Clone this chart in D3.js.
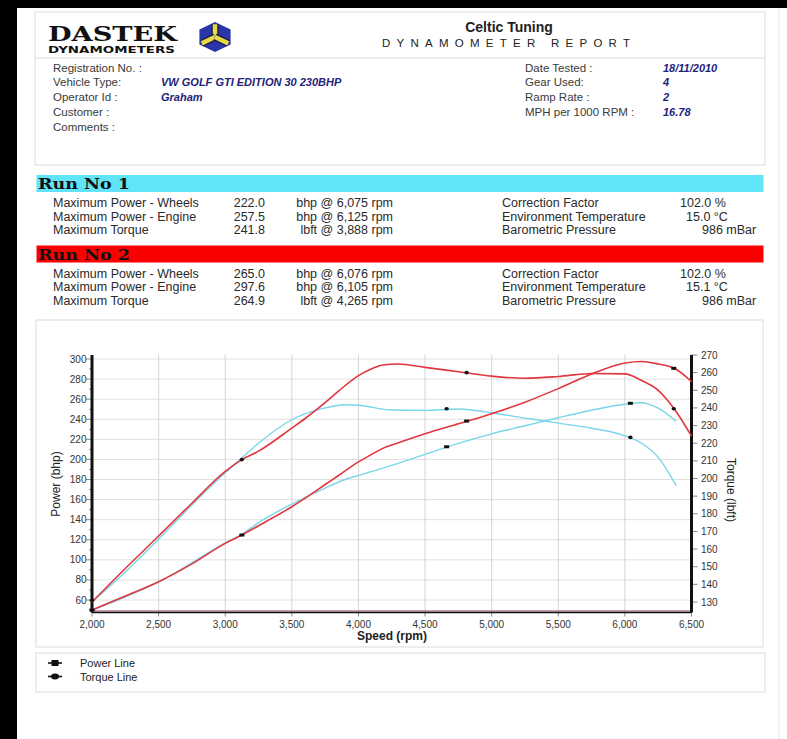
<!DOCTYPE html>
<html lang="en">
<head>
    <meta charset="UTF-8">
    <title>Dastek Dynamometer Report</title>
    <script src="https://d3js.org/d3.v7.min.js"></script>
    <style>
        body {
            margin: 0;
            background: #fff;
            font-family: 'Liberation Sans', Arial, sans-serif;
        }
        svg { display: block; }
        .lbl { font-size: 11.5px; fill: #3a3a3a; }
        .val { font-size: 11px; fill: #23237a; font-weight: bold; font-style: italic; }
        .run { font-size: 12.5px; fill: #2a2a2a; }
        .tick { font-size: 10px; fill: #333; }
    </style>
</head>
<body>
    <svg id="report" width="787" height="739"></svg>

    <script>
        // Speed points (rpm)
        const run1Rpm = [2000, 2250, 2500, 2750, 3000, 3125, 3250, 3500, 3750, 3900, 4000, 4250, 4500, 4750, 5000, 5250, 5500, 5750, 6000, 6125, 6250, 6385];
        const run2Rpm = [2000, 2250, 2500, 2750, 3000, 3125, 3250, 3500, 3600, 3750, 3850, 4000, 4100, 4175, 4300, 4500, 4750, 5000, 5250, 5500, 5750, 6000, 6125, 6250, 6375, 6500];

        // Run 1 (cyan)
        const run1Power  = [50, 63, 78, 97, 117, 125.5, 137, 155.5, 171.5, 180, 184, 194, 205, 216, 225.5, 233.5, 241.5, 249, 255, 256.5, 251, 238];
        const run1Torque = [130, 147, 165.5, 185, 203.2, 211.7, 220, 233.3, 240, 241.8, 241.5, 238.8, 238.6, 239.4, 237.3, 234.2, 231.4, 228.5, 224.2, 220, 212, 196];
        // Run 2 (red)
        const run2Power  = [50, 64, 78.2, 96, 116.4, 124.7, 134, 152.9, 161.5, 175, 184, 197.5, 205, 210.5, 216.5, 225.5, 235.5, 245.5, 257, 270.5, 285, 296, 297.5, 295, 290.5, 277.5];
        const run2Torque = [130, 149, 167.4, 186, 204, 210.7, 215.5, 228.6, 234, 243, 249.5, 258.3, 262.2, 264.2, 264.9, 263, 260.5, 258, 256.8, 257.8, 259.5, 259.3, 255.5, 250, 239, 224];

        // Black cursor markers on the curves
        const run1Marks = [
            { rpm: 4662, power: 212.6, torque: 239.5 },
            { rpm: 6041, power: 255.9, torque: 223.3 }
        ];
        const run2Marks = [
            { rpm: 2000, power: 50, torque: 131 },
            { rpm: 3125, power: 124.7, torque: 210.7 },
            { rpm: 4812, power: 238.2, torque: 260 },
            { rpm: 6367, power: 290.7, torque: 239.5 }
        ];

        const xTicks = [2000, 2500, 3000, 3500, 4000, 4500, 5000, 5500, 6000, 6500];
        const powerTicks = [60, 80, 100, 120, 140, 160, 180, 200, 220, 240, 260, 280, 300];
        const torqueTicks = [130, 140, 150, 160, 170, 180, 190, 200, 210, 220, 230, 240, 250, 260, 270];

        // Header fields
        const leftFields = [
            ["Registration No. :", ""],
            ["Vehicle Type:", "VW GOLF GTI EDITION 30 230BHP"],
            ["Operator Id :", "Graham"],
            ["Customer :", ""],
            ["Comments :", ""]
        ];
        const rightFields = [
            ["Date Tested :", "18/11/2010"],
            ["Gear Used:", "4"],
            ["Ramp Rate :", "2"],
            ["MPH per 1000 RPM :", "16.78"]
        ];

        // Run summaries
        const runs = [
            {
                title: "Run No 1", color: "#62e4f8",
                rows: [
                    ["Maximum Power - Wheels", "222.0", "bhp @ 6,075 rpm"],
                    ["Maximum Power - Engine", "257.5", "bhp @ 6,125 rpm"],
                    ["Maximum Torque", "241.8", "lbft @ 3,888 rpm"]
                ],
                env: [["Correction Factor", "102.0 %"], ["Environment Temperature", "15.0 °C"], ["Barometric Pressure", "986 mBar"]]
            },
            {
                title: "Run No 2", color: "#fb0000",
                rows: [
                    ["Maximum Power - Wheels", "265.0", "bhp @ 6,076 rpm"],
                    ["Maximum Power - Engine", "297.6", "bhp @ 6,105 rpm"],
                    ["Maximum Torque", "264.9", "lbft @ 4,265 rpm"]
                ],
                env: [["Correction Factor", "102.0 %"], ["Environment Temperature", "15.1 °C"], ["Barometric Pressure", "986 mBar"]]
            }
        ];

        const svg = d3.select("#report");

        // black scan border
        svg.append("rect").attr("x", 0).attr("y", 0).attr("width", 787).attr("height", 739).attr("fill", "#fff");
        svg.append("rect").attr("x", 0).attr("y", 0).attr("width", 17).attr("height", 739).attr("fill", "#000");
        svg.append("rect").attr("x", 0).attr("y", 0).attr("width", 787).attr("height", 8).attr("fill", "#000");
        svg.append("line").attr("x1", 779).attr("x2", 779).attr("y1", 8).attr("y2", 739).attr("stroke", "#e6e6e6");

        // ---- header box ----
        svg.append("rect").attr("x", 35).attr("y", 12).attr("width", 730).attr("height", 153)
            .attr("fill", "none").attr("stroke", "#dcdcdc");
        svg.append("line").attr("x1", 35).attr("x2", 765).attr("y1", 58).attr("y2", 58).attr("stroke", "#dcdcdc");

        // logo
        svg.append("text").attr("x", 48).attr("y", 40.5).attr("textLength", 129).attr("lengthAdjust", "spacingAndGlyphs")
            .style("font-family", "'DejaVu Serif', serif").style("font-weight", "bold").style("font-size", "21px")
            .attr("fill", "#111").text("DASTEK");
        svg.append("text").attr("x", 48).attr("y", 53).attr("textLength", 127).attr("lengthAdjust", "spacingAndGlyphs")
            .style("font-family", "'DejaVu Sans', sans-serif").style("font-weight", "bold").style("font-size", "8.5px")
            .attr("fill", "#111").text("DYNAMOMETERS");

        const cube = svg.append("g").attr("transform", "translate(215,37)");
        const hex = d3.range(6).map(i => {
            const a = (-90 + i * 60) * Math.PI / 180;
            return [18 * Math.cos(a), 15 * Math.sin(a)];
        });
        cube.append("polygon").attr("points", hex.map(p => p.join(",")).join(" ")).attr("fill", "#2a36a8");
        [[0, -15], [-15.6, 7.5], [15.6, 7.5]].forEach(p => {
            cube.append("line").attr("x1", 0).attr("y1", 0).attr("x2", p[0] * 0.85).attr("y2", p[1] * 0.85)
                .attr("stroke", "#1a1a40").attr("stroke-width", 7);
            cube.append("line").attr("x1", 0).attr("y1", 0).attr("x2", p[0] * 0.85).attr("y2", p[1] * 0.85)
                .attr("stroke", "#e6d94a").attr("stroke-width", 4.5);
        });

        // title
        svg.append("text").attr("x", 509).attr("y", 32).attr("text-anchor", "middle")
            .style("font-size", "14px").style("font-weight", "bold").attr("fill", "#222").text("Celtic Tuning");
        svg.append("text").attr("x", 382).attr("y", 47).attr("textLength", 248)
            .style("font-size", "11.5px").attr("fill", "#222").text("DYNAMOMETER REPORT");

        leftFields.forEach((f, i) => {
            const y = 71.5 + i * 14.8;
            svg.append("text").attr("class", "lbl").attr("x", 53).attr("y", y).text(f[0]);
            svg.append("text").attr("class", "val").attr("x", 161).attr("y", y).text(f[1]);
        });
        rightFields.forEach((f, i) => {
            const y = 71.5 + i * 14.8;
            svg.append("text").attr("class", "lbl").attr("x", 525).attr("y", y).text(f[0]);
            svg.append("text").attr("class", "val").attr("x", 663).attr("y", y).text(f[1]);
        });

        // ---- run summaries ----
        runs.forEach((r, k) => {
            const top = 175 + k * 70.5;
            svg.append("rect").attr("x", 36.5).attr("y", top).attr("width", 727).attr("height", 17).attr("fill", r.color);
            svg.append("text").attr("x", 38).attr("y", top + 14).attr("textLength", 92).attr("lengthAdjust", "spacingAndGlyphs")
                .style("font-family", "'DejaVu Serif', serif").style("font-weight", "bold").style("font-size", "15px")
                .attr("fill", "#111").text(r.title);
            r.rows.forEach((row, i) => {
                const y = top + 32 + i * 13.5;
                svg.append("text").attr("class", "run").attr("x", 53).attr("y", y).text(row[0]);
                svg.append("text").attr("class", "run").attr("x", 265).attr("y", y).attr("text-anchor", "end").text(row[1]);
                svg.append("text").attr("class", "run").attr("x", 393).attr("y", y).attr("text-anchor", "end").text(row[2]);
            });
            r.env.forEach((row, i) => {
                const y = top + 32 + i * 13.5;
                svg.append("text").attr("class", "run").attr("x", 502).attr("y", y).text(row[0]);
                svg.append("text").attr("class", "run").attr("x", [680, 686, 702][i]).attr("y", y).text(row[1]);
            });
        });

        // ---- chart ----
        svg.append("rect").attr("x", 36).attr("y", 320).attr("width", 727).attr("height", 327)
            .attr("fill", "none").attr("stroke", "#dcdcdc");

        const plotTop = 355, plotBottom = 612.5;
        const x = d3.scaleLinear().domain([2000, 6500]).range([92, 691.5]);
        const yP = d3.scaleLinear().domain([60, 300]).range([600, 359]);
        const yT = d3.scaleLinear().domain([130, 270]).range([602, 355]);

        const grid = svg.append("g");
        grid.selectAll(".gh").data(powerTicks).join("line")
            .attr("x1", x(2000)).attr("x2", x(6500)).attr("y1", d => yP(d)).attr("y2", d => yP(d))
            .attr("stroke", "#e0e0e0");
        grid.selectAll(".gv").data(xTicks.slice(1, -1)).join("line")
            .attr("x1", d => x(d)).attr("x2", d => x(d)).attr("y1", plotTop).attr("y2", plotBottom)
            .attr("stroke", "#d4d4d4");

        // axes
        const axisL = svg.append("g");
        axisL.selectAll("line").data(d3.range(50, 301, 10)).join("line")
            .attr("x1", d => x(2000) - (d % 20 === 0 ? 6 : 3)).attr("x2", x(2000))
            .attr("y1", d => yP(d)).attr("y2", d => yP(d)).attr("stroke", "#888");
        axisL.selectAll("text").data(powerTicks).join("text").attr("class", "tick")
            .attr("x", 86.5).attr("y", d => yP(d) + 3.5).attr("text-anchor", "end").text(d => d);

        const axisR = svg.append("g");
        axisR.selectAll("line").data(torqueTicks).join("line")
            .attr("x1", x(6500)).attr("x2", x(6500) + 6).attr("y1", d => yT(d)).attr("y2", d => yT(d)).attr("stroke", "#888");
        axisR.selectAll("text").data(torqueTicks).join("text").attr("class", "tick")
            .attr("x", 701).attr("y", d => yT(d) + 3.5).text(d => d);

        const axisX = svg.append("g");
        axisX.selectAll("line").data(xTicks).join("line")
            .attr("x1", d => x(d)).attr("x2", d => x(d)).attr("y1", plotBottom).attr("y2", plotBottom + 4).attr("stroke", "#888");
        axisX.selectAll("text").data(xTicks).join("text").attr("class", "tick")
            .attr("x", d => x(d)).attr("y", 628).attr("text-anchor", "middle").text(d => d3.format(",")(d));

        svg.append("line").attr("x1", x(2000)).attr("x2", x(6500)).attr("y1", plotBottom - 1.5).attr("y2", plotBottom - 1.5)
            .attr("stroke", "#9a3a6a").attr("stroke-width", 1);
        svg.append("line").attr("x1", x(2000)).attr("x2", x(6500)).attr("y1", plotBottom).attr("y2", plotBottom)
            .attr("stroke", "#111").attr("stroke-width", 1.6);
        svg.append("line").attr("x1", x(2000)).attr("x2", x(2000)).attr("y1", plotTop).attr("y2", plotBottom)
            .attr("stroke", "#111").attr("stroke-width", 3);
        svg.append("line").attr("x1", x(6500)).attr("x2", x(6500)).attr("y1", plotTop).attr("y2", plotBottom)
            .attr("stroke", "#111").attr("stroke-width", 3);

        svg.append("text").attr("transform", "translate(60,484) rotate(-90)").attr("text-anchor", "middle")
            .style("font-size", "12px").attr("fill", "#222").text("Power (bhp)");
        svg.append("text").attr("transform", "translate(727,490) rotate(90)").attr("text-anchor", "middle")
            .style("font-size", "12px").attr("fill", "#222").text("Torque (lbft)");
        svg.append("text").attr("x", 392).attr("y", 640).attr("text-anchor", "middle")
            .style("font-size", "12px").style("font-weight", "bold").attr("fill", "#222").text("Speed (rpm)");

        // curves
        const lineP = d3.line().x(d => x(d[0])).y(d => yP(d[1])).curve(d3.curveMonotoneX);
        const lineT = d3.line().x(d => x(d[0])).y(d => yT(d[1])).curve(d3.curveMonotoneX);
        const curves = svg.append("g").attr("fill", "none");
        const series = [
            { rpm: run1Rpm, power: run1Power, torque: run1Torque, color: "#78d6e8", w: 1.4, marks: run1Marks },
            { rpm: run2Rpm, power: run2Power, torque: run2Torque, color: "#e2363e", w: 1.6, marks: run2Marks }
        ];
        series.forEach(s => {
            curves.append("path").attr("d", lineP(d3.zip(s.rpm, s.power))).attr("stroke", s.color).attr("stroke-width", s.w);
            curves.append("path").attr("d", lineT(d3.zip(s.rpm, s.torque))).attr("stroke", s.color).attr("stroke-width", s.w);
        });
        series.forEach(s => {
            svg.append("g").selectAll("rect").data(s.marks).join("rect")
                .attr("x", d => x(d.rpm) - 2.5).attr("y", d => yP(d.power) - 1.5).attr("width", 5).attr("height", 3)
                .attr("fill", "#111");
            svg.append("g").selectAll("ellipse").data(s.marks).join("ellipse")
                .attr("cx", d => x(d.rpm)).attr("cy", d => yT(d.torque)).attr("rx", 2.2).attr("ry", 1.8)
                .attr("fill", "#111");
        });

        // ---- legend ----
        svg.append("rect").attr("x", 36).attr("y", 653).attr("width", 729).attr("height", 39)
            .attr("fill", "none").attr("stroke", "#dcdcdc");
        [["Power Line", "rect"], ["Torque Line", "ellipse"]].forEach((l, i) => {
            const y = 663 + i * 13.5;
            svg.append("line").attr("x1", 48).attr("x2", 62).attr("y1", y).attr("y2", y).attr("stroke", "#111").attr("stroke-width", 1.6);
            if (l[1] === "rect") {
                svg.append("rect").attr("x", 51.5).attr("y", y - 3).attr("width", 7).attr("height", 6).attr("fill", "#111");
            } else {
                svg.append("ellipse").attr("cx", 55).attr("cy", y).attr("rx", 4).attr("ry", 3).attr("fill", "#111");
            }
            svg.append("text").attr("x", 80).attr("y", y + 4).style("font-size", "11px").attr("fill", "#222").text(l[0]);
        });
    </script>
</body>
</html>
